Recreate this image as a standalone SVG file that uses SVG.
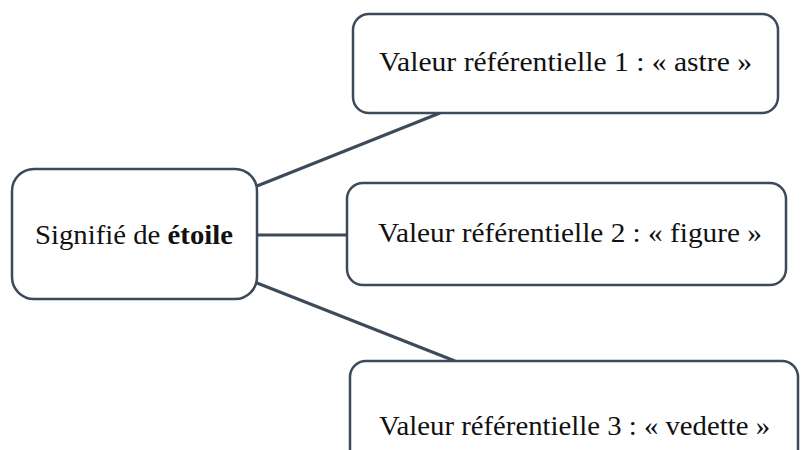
<svg xmlns="http://www.w3.org/2000/svg" width="801" height="450" viewBox="0 0 801 450">
  <style>
    .box { fill: #ffffff; stroke: #3d4a5a; stroke-width: 2.5; }
    .link { stroke: #3d4a5a; stroke-width: 3; fill: none; }
    .label { font-family: 'Liberation Serif', 'Times New Roman', serif; font-size: 27.5px; fill: #111111; text-anchor: middle; }
  </style>
  <rect width="801" height="450" fill="#ffffff"/>
  <g id="connectors">
    <line class="link" x1="257" y1="186" x2="440" y2="113"/>
    <line class="link" x1="257" y1="235" x2="347" y2="235"/>
    <line class="link" x1="257" y1="283" x2="455" y2="361"/>
  </g>
  <g id="node-signifie">
    <rect class="box" x="12" y="169" width="245" height="130" rx="22"/>
    <text class="label" x="134" y="244" textLength="198" lengthAdjust="spacingAndGlyphs">Signifié de <tspan font-weight="bold">étoile</tspan></text>
  </g>
  <g id="node-valeur-1">
    <rect class="box" x="353" y="14" width="425" height="99" rx="16"/>
    <text class="label" x="565.5" y="71" textLength="373" lengthAdjust="spacingAndGlyphs">Valeur référentielle 1 : « astre »</text>
  </g>
  <g id="node-valeur-2">
    <rect class="box" x="347" y="183" width="439" height="102" rx="16"/>
    <text class="label" x="570" y="242" textLength="384" lengthAdjust="spacingAndGlyphs">Valeur référentielle 2 : « figure »</text>
  </g>
  <g id="node-valeur-3">
    <rect class="box" x="350" y="361" width="448" height="110" rx="16"/>
    <text class="label" x="574.5" y="435" textLength="391" lengthAdjust="spacingAndGlyphs">Valeur référentielle 3 : « vedette »</text>
  </g>
</svg>
